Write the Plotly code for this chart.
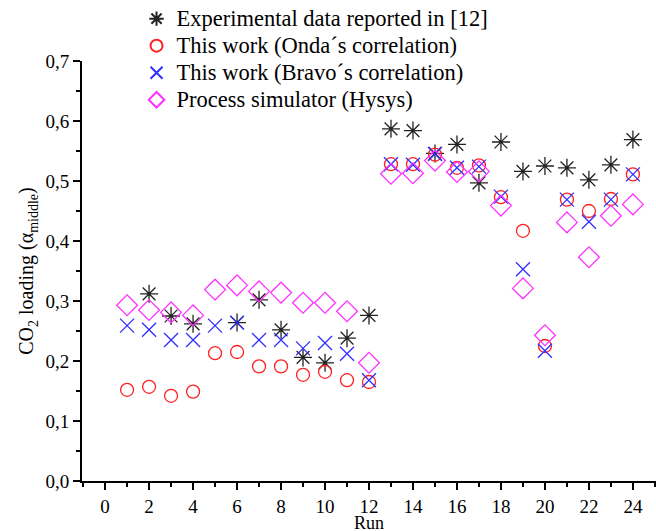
import plotly.graph_objects as go

runs = list(range(1, 25))

experimental = [None, 0.312, 0.275, 0.262, None, 0.264, 0.302, 0.252, 0.206, 0.197, 0.238, 0.276,
                0.587, 0.584, 0.546, 0.561, 0.497, 0.565, 0.516, 0.525, 0.522, 0.502, 0.527, 0.569]
onda = [0.152, 0.157, 0.142, 0.149, 0.213, 0.215, 0.191, 0.191, 0.177, 0.182, 0.168, 0.165,
        0.528, 0.528, 0.544, 0.522, 0.526, 0.473, 0.417, 0.225, 0.469, 0.450, 0.470, 0.511]
bravo = [0.259, 0.252, 0.235, 0.235, 0.259, 0.264, 0.235, 0.235, 0.221, 0.230, 0.212, 0.168,
         0.528, 0.527, 0.545, 0.522, 0.524, 0.474, 0.353, 0.217, 0.469, 0.432, 0.469, 0.511]
hysys = [0.293, 0.285, 0.281, 0.276, 0.319, 0.326, 0.316, 0.314, 0.297, 0.297, 0.283, 0.197,
         0.512, 0.513, 0.534, 0.515, 0.516, 0.459, 0.321, 0.243, 0.431, 0.373, 0.442, 0.461]

series_names = ["Experimental data reported in [12]",
                "This work (Onda\u00b4s correlation)",
                "This work (Bravo\u00b4s correlation)",
                "Process simulator (Hysys)"]

x_ticks = list(range(0, 25, 2))
y_ticks = [0.0, 0.1, 0.2, 0.3, 0.4, 0.5, 0.6, 0.7]

FONT = "Liberation Serif, Times New Roman, serif"


def legend_label(s):
    return '<span style="font-size:22.5px">' + s + '</span>'


fig = go.Figure()
fig.add_trace(go.Scatter(x=runs, y=experimental, mode="markers", name=legend_label(series_names[0]),
                         marker=dict(symbol="asterisk-open", size=15, color="#222222", line=dict(width=1.3, color="#222222"))))
fig.add_trace(go.Scatter(x=runs, y=onda, mode="markers", name=legend_label(series_names[1]),
                         marker=dict(symbol="circle-open", size=13, color="#ff2020", line=dict(width=1.3, color="#ff2020"))))
fig.add_trace(go.Scatter(x=runs, y=bravo, mode="markers", name=legend_label(series_names[2]),
                         marker=dict(symbol="x-thin-open", size=14, color="#3030ff", line=dict(width=1.3, color="#3030ff"))))
fig.add_trace(go.Scatter(x=runs, y=hysys, mode="markers", name=legend_label(series_names[3]),
                         marker=dict(symbol="diamond-open", size=16, color="#ff30ff", line=dict(width=1.3, color="#ff30ff"))))

fig.update_layout(
    width=656, height=531,
    margin=dict(l=82, r=0, t=61, b=50),
    paper_bgcolor="white", plot_bgcolor="white",
    separators=",.",
    font=dict(family=FONT, size=19, color="black"),
    showlegend=True,
    legend=dict(x=0.095, y=1.145, xanchor="left", yanchor="top", bgcolor="rgba(0,0,0,0)",
                font=dict(family=FONT, size=18.5, color="black"), itemsizing="constant",
                tracegroupgap=0),
    xaxis=dict(range=[-1.05, 25.05], tickmode="array", tickvals=x_ticks, showgrid=False, zeroline=False,
               showline=True, linecolor="black", linewidth=2, ticks="outside", ticklen=7, tickwidth=1.5,
               tickcolor="black", minor=dict(ticks="outside", dtick=1, tick0=1, ticklen=4, tickwidth=1.5, tickcolor="black"),
               tickfont=dict(family=FONT, size=19), automargin=False),
    yaxis=dict(range=[0, 0.7], tickmode="array", tickvals=y_ticks, tickformat=".1f", showgrid=False, zeroline=False,
               showline=True, linecolor="black", linewidth=2, ticks="outside", ticklen=7, tickwidth=1.5,
               tickcolor="black", minor=dict(ticks="outside", dtick=0.05, tick0=0.05, ticklen=4, tickwidth=1.5, tickcolor="black"),
               title=dict(text="CO<sub>2</sub> loading (\u03b1<sub>middle</sub>)", font=dict(family=FONT, size=20), standoff=6),
               tickfont=dict(family=FONT, size=19), automargin=False),
    annotations=[dict(text="Run", xref="paper", yref="paper", x=0.5, y=-0.1, xanchor="center",
                      yanchor="middle", showarrow=False, font=dict(family=FONT, size=18, color="black"))],
)

fig.write_html("out.html")
